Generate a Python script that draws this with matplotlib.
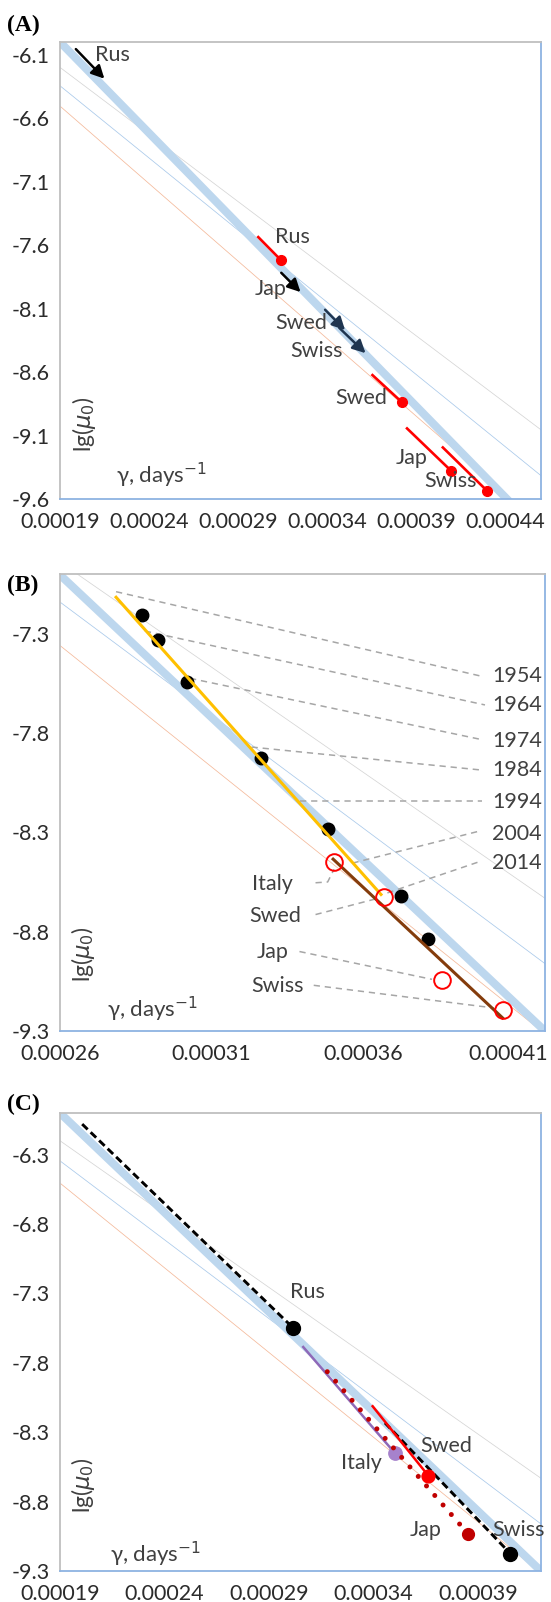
import matplotlib
matplotlib.use("Agg")
import matplotlib.pyplot as plt
from matplotlib.transforms import ScaledTranslation
import numpy as np

plt.rcParams['font.family'] = ['Lato', 'DejaVu Sans']
plt.rcParams['mathtext.fontset'] = 'dejavusans'
plt.rcParams['lines.scale_dashes'] = False

W, H = 551, 1602

# ---------------- shared reference lines (value at x=0.00019 and x=0.00046) ----------------
ref_x = [0.00019, 0.00046]
thick_y = [-6.0, -9.8745]
gray_y = [-6.2, -9.055]
blue_y = [-6.345, -9.416]
orange_y = [-6.505, -9.803]

# ---------------- Panel A data ----------------
A_xticks = [0.00019, 0.00024, 0.00029, 0.00034, 0.00039, 0.00044]
A_yticks = [-9.6, -9.1, -8.6, -8.1, -7.6, -7.1, -6.6, -6.1]
A_xlim = (0.00019, 0.00046)
A_ylim = (-9.6, -6.0)
# arrows (start -> end)
A_arrow_names = ['Rus', 'Jap', 'Swed', 'Swiss']
A_arrow_x0 = [0.0001989, 0.0003142, 0.0003388, 0.0003467]
A_arrow_y0 = [-6.056, -7.818, -8.109, -8.251]
A_arrow_x1 = [0.0002149, 0.0003250, 0.0003500, 0.0003615]
A_arrow_y1 = [-6.289, -7.970, -8.269, -8.451]
A_arrow_colors = ['#000000', '#000000', '#1F3550', '#1F3550']
A_arrow_lab_x = [0.0002095, 0.0003173, 0.0003398, 0.0003487]
A_arrow_lab_y = [-6.100, -7.944, -8.216, -8.436]
A_arrow_lab_ha = ['left', 'right', 'right', 'right']
# red segments (start -> dot)
A_seg_names = ['Rus', 'Swed', 'Jap', 'Swiss']
A_seg_x0 = [0.0003013, 0.0003654, 0.0003848, 0.0004049]
A_seg_y0 = [-7.537, -8.624, -9.044, -9.194]
A_seg_x1 = [0.0003142, 0.0003818, 0.0004094, 0.0004296]
A_seg_y1 = [-7.721, -8.836, -9.376, -9.534]
A_seg_lab_x = [0.0003108, 0.0003739, 0.0003966, 0.0004237]
A_seg_lab_y = [-7.540, -8.808, -9.274, -9.461]
A_seg_lab_ha = ['left', 'right', 'right', 'right']

# ---------------- Panel B data ----------------
B_xticks = [0.00026, 0.00031, 0.00036, 0.00041]
B_yticks = [-9.3, -8.8, -8.3, -7.8, -7.3]
B_xlim = (0.00026, 0.00042)
B_ylim = (-9.3, -7.0)
B_dots_x = [0.000287, 0.0002922, 0.000302, 0.0003263, 0.0003484, 0.0003724, 0.0003815]
B_dots_y = [-7.205, -7.333, -7.544, -7.925, -8.282, -8.620, -8.835]
B_circ_names = ['Italy', 'Swed', 'Jap', 'Swiss']
B_circ_x = [0.0003505, 0.0003668, 0.0003860, 0.0004060]
B_circ_y = [-8.447, -8.625, -9.045, -9.193]
B_orange_x = [0.0002785, 0.0003659]
B_orange_y = [-7.117, -8.613]
B_brown_x = [0.0003501, 0.0004060]
B_brown_y = [-8.435, -9.234]
B_years = ['1954', '1964', '1974', '1984', '1994', '2004', '2014']
B_year_lab_x = 0.0004025
B_year_lab_y = [-7.513, -7.661, -7.840, -7.986, -8.146, -8.307, -8.453]
B_year_lead_x0 = [0.0002785, 0.0002880, 0.0003029, 0.0003232, 0.0003392, 0.0003565, 0.0003680]
B_year_lead_y0 = [-7.089, -7.287, -7.525, -7.871, -8.1425, -8.455, -8.605]
B_year_lead_x1 = [0.0003986, 0.0004002, 0.0003996, 0.0003986, 0.0003991, 0.0003986, 0.0003991]
B_year_lead_y1 = [-7.513, -7.659, -7.835, -7.986, -8.1425, -8.293, -8.444]
B_cty_lab_x = [0.0003367, 0.0003396, 0.0003353, 0.0003404]
B_cty_lab_y = [-8.559, -8.721, -8.903, -9.074]
B_cty_lead_x = [[0.0003443, 0.0003483, 0.0003504], [0.0003443, 0.0003652],
                [0.0003390, 0.0003827], [0.0003437, 0.0004031]]
B_cty_lead_y = [[-8.554, -8.550, -8.486], [-8.714, -8.631],
                [-8.900, -9.040], [-9.070, -9.184]]

# ---------------- Panel C data ----------------
C_xticks = [0.00019, 0.00024, 0.00029, 0.00034, 0.00039]
C_yticks = [-9.3, -8.8, -8.3, -7.8, -7.3, -6.8, -6.3]
C_xlim = (0.00019, 0.00042)
C_ylim = (-9.3, -6.0)
C_dash1_x = [0.0002006, 0.0003016]
C_dash1_y = [-6.080, -7.550]
C_dash2_x = [0.0003454, 0.0004052]
C_dash2_y = [-8.233, -9.172]
C_purple_x = [0.0003063, 0.0003500]
C_purple_y = [-7.686, -8.448]
C_redline_x = [0.0003395, 0.0003662]
C_redline_y = [-8.113, -8.615]
C_dotted_x = [0.0003178, 0.0003853]
C_dotted_y = [-7.864, -9.035]
C_pts_names = ['Rus', 'Italy', 'Swed', 'Jap', 'Swiss']
C_pts_x = [0.0003016, 0.0003500, 0.0003662, 0.0003853, 0.0004052]
C_pts_y = [-7.550, -8.448, -8.615, -9.035, -9.180]
C_pts_colors = ['#000000', '#A682CC', '#FF0000', '#C00000', '#000000']
C_pts_sizes = [10, 9.6, 9.2, 8.5, 10]
C_lab_x = [0.0002998, 0.0003438, 0.0003621, 0.0003725, 0.0003969]
C_lab_y = [-7.293, -8.519, -8.401, -9.007, -9.007]
C_lab_ha = ['left', 'right', 'left', 'right', 'left']

TXT = '#404040'
TICK = '#2B2B2B'
FS = 15.5


def make_axes(l, r, t, b):
    return fig.add_axes([l / W, 1 - b / H, (r - l) / W, (b - t) / H])


def style(ax, xlim, ylim, xticks, yticks, lg_pos, gam_pos):
    ax.set_xlim(*xlim)
    ax.set_ylim(*ylim)
    ax.set_xticks(xticks)
    ax.set_xticklabels(['%.5f' % v for v in xticks])
    ax.set_yticks(yticks)
    ax.set_yticklabels(['%.1f' % v for v in yticks])
    ax.tick_params(length=0, labelsize=FS, labelcolor=TICK)
    ax.tick_params(axis='x', pad=9.5)
    ax.tick_params(axis='y', pad=7.5)
    for s in ['top', 'left']:
        ax.spines[s].set_color('#BFBFBF')
        ax.spines[s].set_linewidth(1.3)
    for s in ['bottom', 'right']:
        ax.spines[s].set_color('#8DB3E2')
        ax.spines[s].set_linewidth(1.3)
    # reference lines
    ax.plot(ref_x, gray_y, color='#D5D5D5', lw=0.55, zorder=1)
    ax.plot(ref_x, blue_y, color='#A9C9EA', lw=0.55, zorder=1)
    ax.plot(ref_x, orange_y, color='#F4B99A', lw=0.55, zorder=1)
    ax.plot(ref_x, thick_y, color='#BDD7EE', lw=5.8, zorder=1.5, solid_capstyle='butt')
    ax.text(lg_pos[0], lg_pos[1], r'lg($\mu_0$)', transform=ax.transAxes, rotation=90,
            ha='center', va='center', fontsize=16.5, color=TXT)
    ax.text(gam_pos[0], gam_pos[1], r'γ, days$^{-1}$', transform=ax.transAxes,
            ha='left', va='center', fontsize=16, color=TXT)


fig = plt.figure(figsize=(W / 100, H / 100), dpi=100)

# ---------------- Panel A ----------------
axA = make_axes(60, 541, 42, 499)
style(axA, A_xlim, A_ylim, A_xticks, A_yticks, (0.05, 0.163), (0.1155, 0.052))
for i in range(len(A_arrow_names)):
    axA.annotate('', xy=(A_arrow_x1[i], A_arrow_y1[i]), xytext=(A_arrow_x0[i], A_arrow_y0[i]),
                 arrowprops=dict(arrowstyle='-|>,head_length=0.55,head_width=0.28',
                                 color=A_arrow_colors[i], lw=1.8, shrinkA=0, shrinkB=0,
                                 mutation_scale=14), zorder=4)
    axA.text(A_arrow_lab_x[i], A_arrow_lab_y[i], A_arrow_names[i], ha=A_arrow_lab_ha[i],
             va='center', fontsize=FS, color=TXT, zorder=5)
for i in range(len(A_seg_names)):
    axA.plot([A_seg_x0[i], A_seg_x1[i]], [A_seg_y0[i], A_seg_y1[i]], color='#FF0000', lw=1.9, zorder=3)
    axA.plot([A_seg_x1[i]], [A_seg_y1[i]], 'o', color='#FF0000', ms=7, zorder=3)
    axA.text(A_seg_lab_x[i], A_seg_lab_y[i], A_seg_names[i], ha=A_seg_lab_ha[i],
             va='center', fontsize=FS, color=TXT, zorder=5)

# ---------------- Panel B ----------------
axB = make_axes(60, 545, 574, 1031)
style(axB, B_xlim, B_ylim, B_xticks, B_yticks, (0.048, 0.169), (0.097, 0.047))
# keep the last x tick label inside the picture
lastlab = axB.get_xticklabels()[-1]
lastlab.set_transform(lastlab.get_transform() + ScaledTranslation(-6 / 100, 0, fig.dpi_scale_trans))
for i in range(len(B_years)):
    axB.plot([B_year_lead_x0[i], B_year_lead_x1[i]], [B_year_lead_y0[i], B_year_lead_y1[i]],
             color='#A6A6A6', lw=1.1, dashes=(4.5, 3.5), zorder=2)
    axB.text(B_year_lab_x, B_year_lab_y[i], B_years[i], ha='left', va='center',
             fontsize=FS, color=TXT, zorder=5)
for i in range(len(B_circ_names)):
    axB.plot(B_cty_lead_x[i], B_cty_lead_y[i], color='#A6A6A6', lw=1.1, dashes=(4.5, 3.5), zorder=2)
    axB.text(B_cty_lab_x[i], B_cty_lab_y[i], B_circ_names[i], ha='right', va='center',
             fontsize=FS, color=TXT, zorder=5)
axB.plot(B_dots_x, B_dots_y, 'o', color='#000000', ms=9, zorder=3)
axB.plot(B_brown_x, B_brown_y, color='#843C0C', lw=2.2, zorder=4)
axB.plot(B_orange_x, B_orange_y, color='#FFC000', lw=2.2, zorder=4)
axB.plot(B_circ_x, B_circ_y, 'o', mfc='none', mec='#FF0000', mew=1.4, ms=12, zorder=4.5)

# ---------------- Panel C ----------------
axC = make_axes(60, 541, 1113, 1571)
style(axC, C_xlim, C_ylim, C_xticks, C_yticks, (0.048, 0.188), (0.1045, 0.036))
axC.plot(C_dash1_x, C_dash1_y, color='#000000', lw=2.1, dashes=(5.5, 3.0), zorder=3)
axC.plot(C_dash2_x, C_dash2_y, color='#000000', lw=2.1, dashes=(5.5, 3.0), zorder=3)
axC.plot(C_purple_x, C_purple_y, color='#8E69B8', lw=1.8, zorder=3)
axC.plot(C_redline_x, C_redline_y, color='#FF0000', lw=1.8, zorder=3.2)
for i in range(len(C_pts_names)):
    axC.plot([C_pts_x[i]], [C_pts_y[i]], 'o', color=C_pts_colors[i], ms=C_pts_sizes[i], zorder=4)
    axC.text(C_lab_x[i], C_lab_y[i], C_pts_names[i], ha=C_lab_ha[i], va='center',
             fontsize=FS, color=TXT, zorder=5)
axC.plot(C_dotted_x, C_dotted_y, color='#C00000', lw=3.6, dashes=(0.01, 9.07),
         dash_capstyle='round', zorder=4.5)

# ---------------- panel labels ----------------
for lab, yc in [('(A)', 25), ('(B)', 585), ('(C)', 1104)]:
    fig.text(7 / W, 1 - yc / H, lab, ha='left', va='center', fontsize=17,
             fontweight='bold', family='Liberation Serif', color='#000000')

fig.savefig('out.png', dpi=100)
